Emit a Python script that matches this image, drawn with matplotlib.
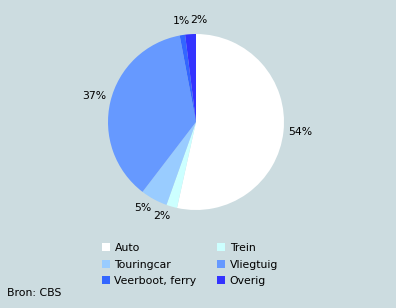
import matplotlib.pyplot as plt
from matplotlib.patches import Patch

## Gegevens
categories = ["Auto", "Trein", "Touringcar", "Vliegtuig", "Veerboot, ferry", "Overig"]
values = [54, 2, 5, 37, 1, 2]
labels = ["54%", "2%", "5%", "37%", "1%", "2%"]
colors = ["#FFFFFF", "#CCFFFF", "#99CCFF", "#6699FF", "#3366FF", "#3333FF"]

bg = "#CCDCE0"
fs = 7.8

fig = plt.figure(figsize=(3.96, 3.08), dpi=100, facecolor=bg)

# pie centered around (196, 122) px, radius ~88 px
cx, cy, r = 196 / 396, 1 - 122 / 308, 88
ax = fig.add_axes([cx - r / 396, cy - r / 308, 2 * r / 396, 2 * r / 308])
ax.set_facecolor(bg)
wedges, texts = ax.pie(values, labels=labels, colors=colors, startangle=90,
                       counterclock=False, labeldistance=1.05,
                       wedgeprops=dict(linewidth=0),
                       textprops=dict(fontsize=fs, color='#000000'))
# labels hug the rim: bottom ones hang below, top ones sit above
for t in texts:
    x, y = t.get_position()
    if y < -0.5:
        t.set_va('top')
    elif y > 0.9:
        t.set_va('bottom')
        t.set_position((x, y + 0.05))
texts[3].set_va('bottom')
texts[4].set_ha('center')
texts[5].set_ha('left')
ax.set_xlim(-1, 1)
ax.set_ylim(-1, 1)
ax.set_aspect('equal')
ax.set_axis_off()

handles = [Patch(facecolor=c, edgecolor='none') for c in colors]
# legend ordered row-wise: Auto | Trein, Touringcar | Vliegtuig, ...
order = [0, 2, 4, 1, 3, 5]
fig.legend([handles[i] for i in order], [categories[i] for i in order],
           loc='upper left', bbox_to_anchor=(102 / 396, 1 - 243 / 308),
           ncol=2, frameon=False, fontsize=fs, handlelength=0.7,
           handleheight=0.7, handletextpad=0.45, columnspacing=1.9,
           labelspacing=0.6, borderpad=0, borderaxespad=0)

fig.text(7 / 396, 1 - 293 / 308, "Bron: CBS", fontsize=fs, va='center', ha='left')

fig.savefig("out.png", dpi=100, facecolor=bg)
